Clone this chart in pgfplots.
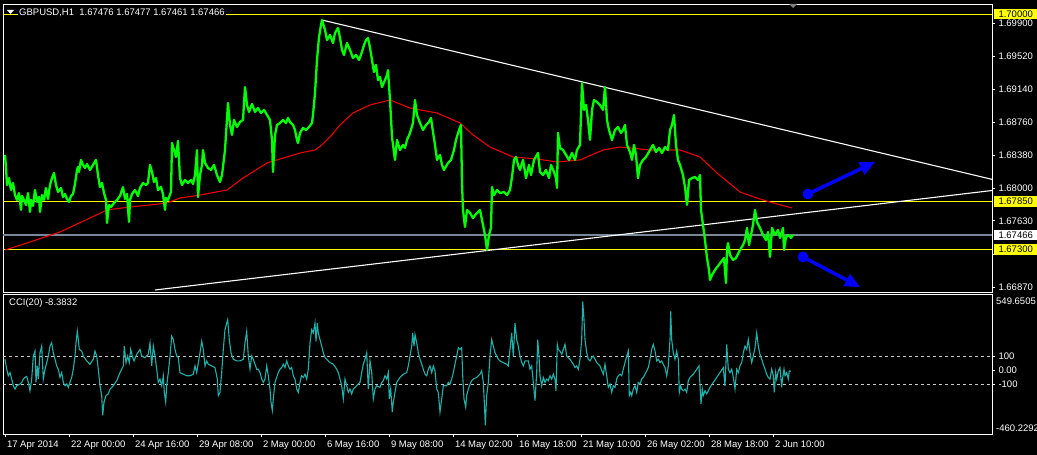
\documentclass[border=0pt]{standalone}
\usepackage{pgfplots}
\pgfplotsset{compat=1.18}
\usepackage{fontspec}
\setmainfont{Liberation Sans}
\usetikzlibrary{arrows.meta}
\definecolor{mtgreen}{RGB}{0,255,0}
\definecolor{mtred}{RGB}{235,0,0}
\definecolor{mtyellow}{RGB}{255,255,0}
\definecolor{mtslate}{RGB}{119,136,153}
\definecolor{mtcyan}{RGB}{32,178,170}
\definecolor{mtblue}{RGB}{0,0,255}
\definecolor{mtsilver}{RGB}{200,200,200}
\newcommand{\lbl}{\fontsize{9.5}{11}\selectfont}
\begin{document}
\begin{tikzpicture}
\fill[black] (0,0) rectangle (1037pt,455pt);
% ---------------- price panel ----------------
\begin{axis}[
  at={(3pt,163pt)}, anchor=south west, scale only axis,
  width=989pt, height=288pt,
  xmin=3, xmax=992, ymin=1.66812, ymax=1.70118,
  axis line style={white, line width=0.8pt},
  xtick=\empty,
  ytick={1.66870,1.67250,1.67630,1.68000,1.68380,1.68760,1.69140,1.69520,1.69900},
  yticklabels={1.66870,{},1.67630,1.68000,1.68380,1.68760,1.69140,1.69520,1.69900},
  ytick pos=right, yticklabel pos=right, tick align=outside, major tick length=3pt,
  tick style={white, line width=0.6pt},
  yticklabel style={font=\lbl, text=white, anchor=west},
  every axis plot/.append style={line join=round},
]
\addplot[mtyellow, line width=1.3pt] coordinates {(3,1.70000) (992,1.70000)};
\addplot[mtyellow, line width=1.3pt] coordinates {(3,1.67850) (992,1.67850)};
\addplot[mtyellow, line width=1.3pt] coordinates {(3,1.67300) (992,1.67300)};
\addplot[mtslate, line width=1.2pt] coordinates {(3,1.67466) (992,1.67466)};
% trend lines
\addplot[white, line width=1.1pt] coordinates {(322,1.69934) (992,1.68105)};
\addplot[white, line width=1.1pt] coordinates {(155,1.66835) (992,1.67977)};
% moving average
\addplot[mtred, line width=1.1pt] coordinates {
(5,1.67294) (30,1.67386) (60,1.67501) (90,1.67661) (107,1.67754) (130,1.67788)
(150,1.67811) (167,1.67834) (180,1.67891) (200,1.67925) (227,1.67983) (243,1.68120)
(267,1.68293) (300,1.68408) (315,1.68442) (322,1.68500) (330,1.68592) (340,1.68729)
(353,1.68867) (370,1.68959) (390,1.69016) (410,1.68924) (437,1.68867) (460,1.68752)
(473,1.68615) (490,1.68476) (513,1.68362) (537,1.68339) (557,1.68304) (580,1.68328)
(603,1.68442) (620,1.68476) (650,1.68442) (680,1.68442) (700,1.68362) (717,1.68178)
(740,1.67960) (757,1.67891) (773,1.67834) (792,1.67777)};
% price
\addplot[mtgreen, line width=2.3pt] coordinates {
(5,1.68385) (6,1.68236) (7,1.68040) (9,1.68120) (11,1.67983) (13,1.68063) (15,1.67925)
(17,1.67869) (19,1.67948) (21,1.67754) (22,1.67914) (24,1.67869) (26,1.67811) (28,1.67948)
(30,1.67731) (31,1.67869) (33,1.67800) (35,1.67983) (37,1.67846) (39,1.67903) (40,1.67731)
(42,1.67925) (44,1.67869) (46,1.68006) (48,1.67880) (50,1.68040) (52,1.68120) (54,1.68178)
(56,1.68040) (58,1.67960) (61,1.68006) (63,1.67903) (65,1.67937) (67,1.67880) (69,1.67846)
(71,1.67914) (73,1.67937) (75,1.68052) (77,1.68213) (78,1.68247) (79,1.68190) (81,1.68328)
(83,1.68270) (85,1.68236) (87,1.68282) (90,1.68213) (93,1.68270) (96,1.68328) (98,1.68154)
(100,1.68017) (102,1.68063) (104,1.67948) (106,1.67869) (107,1.67604) (109,1.67811)
(111,1.67788) (114,1.67834) (117,1.67869) (120,1.67914) (123,1.68017) (125,1.67880)
(127,1.67937) (129,1.67616) (130,1.67869) (132,1.67937) (135,1.67983) (138,1.67914)
(140,1.68006) (143,1.68063) (146,1.68040) (148,1.68063) (150,1.68270) (152,1.68190)
(154,1.68075) (156,1.68120) (158,1.67983) (161,1.68017) (163,1.67937) (165,1.67754)
(166,1.67891) (168,1.67869) (171,1.67960) (172,1.68523) (174,1.68442) (176,1.68362)
(178,1.68546) (180,1.68120) (182,1.68040) (185,1.68098) (188,1.68063) (191,1.68098)
(193,1.68052) (195,1.68154) (197,1.68442) (198,1.67903) (200,1.68154) (202,1.68270)
(203,1.68442) (205,1.68293) (208,1.68236) (211,1.68213) (214,1.68270) (217,1.68154)
(220,1.68075) (222,1.68154) (225,1.68442) (228,1.68982) (230,1.68729) (232,1.68615)
(234,1.68787) (237,1.68706) (240,1.68764) (243,1.68787) (245,1.69165) (247,1.68959)
(249,1.68879) (252,1.68970) (255,1.68879) (258,1.68924) (261,1.68867) (264,1.68902)
(267,1.68844) (270,1.68787) (272,1.68557) (273,1.68190) (275,1.68615) (277,1.68729)
(280,1.68752) (283,1.68787) (286,1.68752) (288,1.68810) (290,1.68764) (293,1.68729)
(295,1.68672) (297,1.68557) (298,1.68523) (300,1.68638) (303,1.68695) (306,1.68672)
(309,1.68706) (312,1.68752) (313,1.68844) (315,1.69096) (317,1.69475) (319,1.69739)
(321,1.69877) (322,1.69934) (325,1.69820) (327,1.69705) (330,1.69762) (333,1.69670)
(335,1.69785) (338,1.69843) (340,1.69728) (342,1.69590) (344,1.69533) (347,1.69670)
(350,1.69590) (353,1.69498) (356,1.69533) (359,1.69475) (362,1.69567) (364,1.69647)
(366,1.69705) (368,1.69728) (370,1.69613) (372,1.69475) (374,1.69337) (376,1.69418)
(378,1.69246) (380,1.69280) (382,1.69165) (385,1.69246) (387,1.69303) (388,1.69360)
(390,1.69016) (392,1.68592) (395,1.68328) (397,1.68557) (400,1.68442) (403,1.68500)
(405,1.68465) (407,1.68557) (410,1.68638) (413,1.68752) (415,1.69016) (417,1.68844)
(420,1.68752) (423,1.68672) (426,1.68729) (429,1.68764) (431,1.68810) (433,1.68649)
(435,1.68500) (437,1.68328) (440,1.68385) (442,1.68270) (444,1.68213) (448,1.68293)
(451,1.68328) (454,1.68442) (456,1.68557) (459,1.68672) (461,1.68729) (462,1.68063)
(463,1.67754) (465,1.67558) (467,1.67754) (470,1.67719) (473,1.67661) (476,1.67707)
(480,1.67754) (482,1.67639) (485,1.67466) (487,1.67294) (489,1.67466) (491,1.67547)
(492,1.68017) (494,1.67925) (497,1.67983) (500,1.67948) (504,1.67960) (507,1.67925)
(510,1.67983) (512,1.68132) (514,1.68328) (516,1.68362) (518,1.68270) (520,1.68213)
(523,1.68328) (526,1.68120) (529,1.68270) (531,1.68154) (534,1.68328) (538,1.68408)
(540,1.68190) (543,1.68154) (546,1.68213) (549,1.68120) (551,1.68270) (554,1.68190)
(556,1.68120) (557,1.68006) (558,1.68638) (560,1.68465) (563,1.68442) (566,1.68385)
(569,1.68328) (572,1.68408) (575,1.68328) (577,1.68442) (580,1.68500) (582,1.69211)
(584,1.68902) (586,1.68959) (588,1.68787) (590,1.68557) (592,1.68902) (594,1.69016)
(597,1.68993) (600,1.68959) (603,1.68902) (605,1.69165) (607,1.68787) (609,1.68672)
(612,1.68557) (615,1.68672) (618,1.68706) (621,1.68638) (623,1.68672) (625,1.68729)
(627,1.68500) (630,1.68419) (632,1.68328) (634,1.68500) (636,1.68385) (638,1.68120)
(640,1.68270) (643,1.68328) (646,1.68362) (650,1.68442) (653,1.68500) (656,1.68419)
(659,1.68465) (662,1.68408) (665,1.68476) (668,1.68442) (670,1.68672) (672,1.68729)
(674,1.68844) (676,1.68500) (678,1.68328) (680,1.68270) (683,1.68154) (685,1.68017)
(687,1.67811) (689,1.68098) (692,1.68120) (695,1.68132) (698,1.68098) (700,1.68154)
(701,1.67754) (703,1.67581) (705,1.67409) (707,1.67202) (709,1.67065) (710,1.66950)
(712,1.67007) (715,1.67065) (718,1.67111) (721,1.67157) (724,1.67202) (726,1.66916)
(727,1.67294) (728,1.67374) (730,1.67237) (733,1.67180) (736,1.67202) (740,1.67294)
(743,1.67351) (745,1.67409) (747,1.67547) (749,1.67351) (751,1.67466) (753,1.67581)
(755,1.67754) (757,1.67616) (760,1.67547) (763,1.67466) (766,1.67409) (768,1.67501)
(770,1.67214) (772,1.67547) (775,1.67466) (778,1.67524) (780,1.67432) (783,1.67547)
(784,1.67294) (786,1.67443) (789,1.67466) (791,1.67432) (793,1.67466)};
% arrows
\addplot[mtblue, line width=3.5pt, -{Triangle[length=15pt,width=13pt]}, mark=*, mark indices={1}, mark size=3.6pt, mark options={fill=mtblue}] coordinates {(808,1.67937) (875,1.68304)};
\addplot[mtblue, line width=3.5pt, -{Triangle[length=15pt,width=13pt]}, mark=*, mark indices={1}, mark size=3.6pt, mark options={fill=mtblue}] coordinates {(803,1.67214) (860,1.66869)};
\coordinate (b1) at (axis cs:992,1.70000);
\coordinate (b2) at (axis cs:992,1.67850);
\coordinate (b3) at (axis cs:992,1.67466);
\coordinate (b4) at (axis cs:992,1.67300);
\end{axis}
% ---------------- CCI panel ----------------
\begin{axis}[
  at={(3pt,21pt)}, anchor=south west, scale only axis,
  width=989pt, height=140pt,
  xmin=3, xmax=992, ymin=-460.2292, ymax=549.6505,
  axis line style={white, line width=0.8pt},
  ytick={-100,0,100}, yticklabels={-100,0.00,100},
  xtick={5,69,133,197,261,325,389,453,517,581,645,709,773},
  xticklabels={17 Apr 2014,22 Apr 00:00,24 Apr 16:00,29 Apr 08:00,2 May 00:00,6 May 16:00,9 May 08:00,14 May 02:00,16 May 18:00,21 May 10:00,26 May 02:00,28 May 18:00,2 Jun 10:00},
  ytick pos=right, yticklabel pos=right, xtick pos=bottom,
  tick align=outside, major tick length=3pt,
  tick style={white, line width=0.6pt},
  yticklabel style={font=\lbl, text=white, anchor=west},
  xticklabel style={font=\lbl, text=white, anchor=north west, xshift=-1.5pt, yshift=0pt},
]
\addplot[mtsilver, line width=0.9pt, dash pattern=on 3pt off 3pt] coordinates {(3,100) (992,100)};
\addplot[mtsilver, line width=0.9pt, dash pattern=on 3pt off 3pt] coordinates {(3,-100) (992,-100)};
\addplot[mtcyan, line width=1.1pt] coordinates {
(5,79) (6.7,7) (8.3,-40) (10,-17) (11.7,-64) (13.3,-112) (15,-136) (16.7,-112) (20,-100)
(21.7,-88) (23.3,-64) (25,-52) (26.7,-45) (28.3,-88) (30,-148) (31.7,-64) (33.3,102)
(35,138) (36,-88) (37.3,31) (38.3,-64) (40,126) (41.7,174) (43.3,-64) (45,7) (46.7,55)
(48.3,102) (50,174) (51.7,198) (53.3,126) (55,79) (56.7,31) (58.3,7) (60,-52) (61.7,-17)
(63.3,-88) (65,-112) (66.7,-100) (68.3,-124) (70,-88) (71.7,-52) (73.3,7) (75,102)
(76,198) (77.3,281) (78.3,221) (79.3,150) (81.7,138) (83.3,102) (86.7,67) (90,43)
(93.3,79) (95,138) (96.7,102) (98.3,7) (100,-112) (101.7,-183) (102.7,-326) (104,-231)
(106,-183) (108.3,-171) (110,-136) (113.3,-112) (116.7,-76) (120,-17) (123.3,31)
(124.3,174) (126,55) (127.7,102) (129.3,55) (130.7,150) (132.3,102) (134,67) (136.7,114)
(140,150) (141.7,102) (145,90) (148.3,114) (150,198) (151.7,31) (153.3,174) (155,102)
(156.7,7) (158.3,-88) (160,-64) (161.7,-112) (163.3,-40) (164.3,-160) (165.7,-231)
(166.7,-112) (168.3,-17) (170,102) (171.7,245) (173.3,221) (175,150) (176.7,102)
(178.3,90) (180,-17) (183.3,-29) (186.7,-40) (190,-40) (193.3,-29) (195,31) (196.7,-17)
(200,126) (201.7,209) (203.3,150) (205,31) (206.7,67) (208.3,43) (211.7,31) (215,19)
(217.3,-64) (218.3,-183) (220,-160) (221.7,-17) (223.3,150) (225,293) (226.7,340)
(227.7,364) (229.3,221) (231,126) (233.3,79) (236.7,67) (240,67) (243.3,79) (245,198)
(246.7,281) (248.3,102) (250,7) (251.7,102) (253.3,79) (255,43) (256.7,7) (258.3,7)
(260,-17) (261.7,-64) (263.3,-88) (265,-64) (266.7,31) (268.3,-40) (270,-136) (271,-231)
(272.3,-290) (273.3,-207) (275,-88) (276.7,-52) (278.3,-17) (280,7) (281.7,19) (283.3,43)
(285,19) (286.7,67) (288.3,31) (290,7) (291.7,19) (293.3,-40) (295,-64) (296.7,-136)
(298.3,-160) (300,-88) (301.5,-40) (303.3,-52) (305,-29) (306.7,-64) (308.3,7) (310,198)
(311.7,293) (313.3,269) (315,340) (316,209) (317.3,340) (318.3,269) (320,221) (321.7,174)
(323.3,126) (325,90) (326.7,79) (330,55) (333.3,43) (336.7,7) (338.3,-17) (340,-64)
(341.7,-112) (343.3,-207) (345,-64) (346.7,-112) (348.3,-160) (350,-136) (351.7,-171)
(353.3,-136) (356.7,-112) (358.3,-100) (360,-88) (361.7,-17) (363.3,43) (365,79)
(366.7,126) (368.3,-136) (370,67) (371.7,-17) (373.3,-207) (375,-136) (376.7,-112)
(380,-124) (381.7,-88) (383.3,-76) (385,-40) (386.7,-64) (388.3,-17) (389.3,-207)
(390.7,-136) (392.3,-302) (393.3,-231) (395,-160) (396.7,-88) (400,-52) (403.3,-29)
(406.7,-17) (408.3,31) (410,102) (411.7,174) (412.7,269) (414,174) (415,257) (416.7,198)
(418.3,126) (420,79) (421.7,43) (423.3,7) (425,-29) (426.7,-40) (428.3,7) (430,31)
(431.7,-17) (433.3,31) (435,-5) (436.7,-136) (438.3,-160) (440,-302) (441.7,-207)
(443.3,-112) (446.7,-112) (448.3,-88) (450,-100) (451.7,-64) (453.3,-17) (455,43)
(456.7,102) (458.3,162) (460,150) (461.7,162) (462.7,-40) (464,-207) (465.7,-267)
(466.7,-183) (468.3,-136) (470,-100) (471.7,-76) (473.3,-64) (476.7,-52) (480,-29)
(481.7,-5) (483.3,-88) (484.3,-231) (485.3,-397) (486.7,-183) (488.3,-88) (490,102)
(491.7,221) (493.3,174) (495,126) (496.7,102) (498.3,79) (500,67) (503.3,55) (506.7,43)
(508.3,31) (510,150) (511.7,269) (513.3,102) (515,340) (516.7,221) (518.3,174) (520,102)
(521.7,55) (523.3,31) (525,67) (528.3,67) (530,7) (531.7,31) (533.3,-88) (535,-219)
(536.7,-17) (537.7,221) (539,102) (540,-40) (541.7,-112) (543.3,-52) (545,-88)
(546.7,-64) (548.3,-76) (550,-40) (551.7,-64) (553.3,-29) (555,-64) (556,-148)
(557.3,186) (558.3,150) (560,138) (561.7,114) (563.3,150) (565,186) (566.7,102) (570,79)
(573.3,43) (575,19) (576.7,31) (578.3,7) (580,79) (581.7,221) (582.7,495) (584,364)
(585,221) (586.7,126) (588.3,79) (590,67) (591.7,90) (593.3,102) (595,79) (596.7,55)
(600,30) (603.3,-29) (605,43) (606.7,-40) (608.3,-124) (610,-100) (611.7,-160)
(613.3,-112) (615,-124) (616.7,-64) (618.3,-40) (620,-29) (621.7,-40) (623.3,7) (625,55)
(626.7,102) (628.3,138) (629.3,-183) (630.7,-160) (631.7,-183) (633.3,-136) (635,-112)
(636.7,-160) (638.3,-88) (640,-100) (641.7,-64) (643.3,-52) (645,-29) (646.7,-5)
(648.3,19) (650,79) (651.7,150) (653.3,186) (655,138) (656.7,67) (658.3,79) (660,55)
(661.7,67) (663.3,43) (665,19) (666.7,-40) (668.3,31) (670,221) (670.7,424) (671.7,221)
(673.3,126) (675,79) (676.7,138) (678.3,79) (679.3,-160) (680.7,-112) (681.7,-136)
(683.3,-148) (685,-136) (686.7,-160) (688.3,-76) (690,-52) (693.3,-29) (696.7,7) (699,31)
(700,-112) (701,-243) (702.3,-136) (703.3,-183) (705,-148) (706.7,-171) (708.3,-148)
(710,-124) (713.3,-88) (716.7,-52) (720,-17) (723.3,19) (725,-112) (726.7,186) (728.3,7)
(730,-17) (731.7,7) (733.3,-52) (735,-136) (736.7,7) (738.3,-17) (740,31) (741.7,55)
(743.3,126) (745,174) (746.7,150) (748.3,221) (750,126) (751.7,55) (753.3,102) (755,162)
(756.7,269) (758.3,174) (760,114) (761.7,79) (763.3,43) (765,7) (766.7,-29) (768.3,-52)
(770,-64) (771.7,7) (773.3,-40) (774.3,-160) (775.7,-17) (776.7,-64) (778.3,-5) (780,19)
(781.7,-124) (782.7,-52) (784,7) (785,-40) (786.7,-17) (788.3,-64) (789.3,-5) (790.7,-8.3832)};
\end{axis}
% price tags
\tikzset{tag/.style={text=black, anchor=west, inner xsep=2.5pt, inner ysep=1.8pt, minimum width=43pt, align=left, font=\lbl}}
\node[tag, fill=mtyellow] at ([xshift=2pt]b1) {1.70000};
\node[tag, fill=mtyellow] at ([xshift=2pt]b2) {1.67850};
\node[tag, fill=white] at ([xshift=2pt]b3) {1.67466};
\node[tag, fill=mtyellow] at ([xshift=2pt]b4) {1.67300};
% titles
\fill[white] (7pt,445pt) -- (14pt,445pt) -- (10.5pt,441pt) -- cycle;
\node[anchor=west, fill=black, inner sep=1pt, text=white, font=\lbl] at (18pt,442pt) {GBPUSD,H1\ \ 1.67476 1.67477 1.67461 1.67466};
\node[anchor=west, inner sep=0pt, text=white, font=\lbl] at (9pt,152pt) {CCI(20) -8.3832};
\node[anchor=west, inner sep=0pt, text=white, font=\lbl] at (996pt,154pt) {549.6505};
\node[anchor=west, inner sep=0pt, text=white, font=\lbl] at (996pt,27pt) {-460.2292};
\fill[gray] (789pt,451pt) -- (797pt,451pt) -- (793pt,447pt) -- cycle;
\pgfresetboundingbox
\useasboundingbox (0,0) rectangle (1037pt,455pt);
\end{tikzpicture}
\end{document}
